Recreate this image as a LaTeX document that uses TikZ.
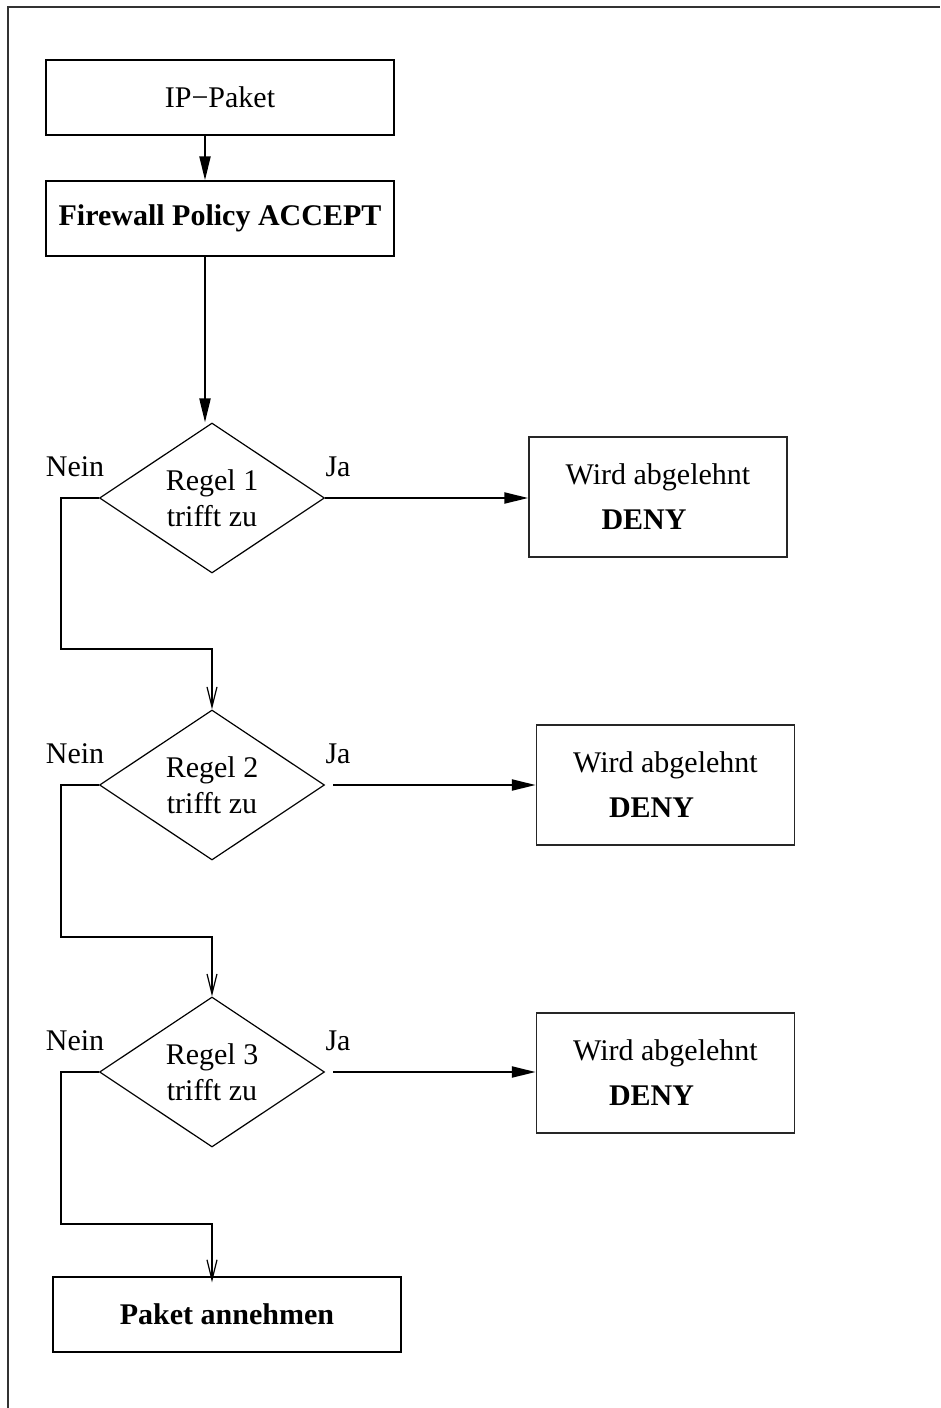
\documentclass[tikz,border=0pt]{standalone}
\usepackage{fontspec}
\setmainfont{Liberation Serif}
\usetikzlibrary{shapes.geometric,arrows.meta,calc}

\begin{document}
\begin{tikzpicture}[x=1pt,y=-1pt,
  every node/.style={font=\fontsize{30}{36}\selectfont},
  box/.style={draw, line width=1.5pt, inner sep=0pt, align=center,
              minimum width=348pt, minimum height=75pt},
  denybox/.style={draw, draw=black!85, line width=1.5pt, inner sep=0pt, align=center,
              minimum width=258pt, minimum height=120pt,
              font=\fontsize{30}{45}\selectfont},
  decision/.style={draw, diamond, line width=1.2pt, minimum width=225pt,
              minimum height=150pt, inner sep=0pt, align=center},
  flow/.style={line width=2.2pt, -{Triangle[length=24pt,width=11pt]}},
  branch/.style={line width=2.2pt, -{Straight Barb[length=20pt,width=10pt,line width=1.2pt]}},
  lbl/.style={inner sep=0pt, anchor=base}
]
\useasboundingbox (0,0) rectangle (940,1408);

% page frame (top and left edge)
\draw[line width=2pt, draw=black!80] (8,1408) -- (8,7) -- (940,7);

% axis of the entry arrows
\coordinate (spine) at (205,0);

% boxes
\node[box] (ip) at (220,97.5) {IP−Paket};
\node[box] (fw) at (220,218.5) {\textbf{Firewall Policy ACCEPT}};

% rule checks
\node[decision] (d1) at (212,498) {Regel 1\\trifft zu};
\node[decision] (d2) at (212,785) {Regel 2\\trifft zu};
\node[decision] (d3) at (212,1072) {Regel 3\\trifft zu};

% outcomes
\node[denybox] (deny1) at (658,497) {Wird abgelehnt\\\textbf{DENY}\hspace*{28pt}};
\node[denybox] (deny2) at (665.5,785) {Wird abgelehnt\\\textbf{DENY}\hspace*{28pt}};
\node[denybox] (deny3) at (665.5,1073) {Wird abgelehnt\\\textbf{DENY}\hspace*{28pt}};
\node[box] (accept) at (227,1314.5) {\textbf{Paket annehmen}};

% branch labels
\node[lbl] (n1) at (75,476) {Nein};
\node[lbl] (j1) at (338,476) {Ja};
\node[lbl] (n2) at (75,763) {Nein};
\node[lbl] (j2) at (338,763) {Ja};
\node[lbl] (n3) at (75,1050) {Nein};
\node[lbl] (j3) at (338,1050) {Ja};

% main flow
\draw[flow] (ip.south -| spine) -- (fw.north -| spine);
\draw[flow] (fw.south -| spine) -- (d1.north -| spine);

% "Ja" branches
\draw[flow] (d1.east) -- (d1.east -| deny1.west);
\draw[flow] ([xshift=8pt]d2.east) -- (d2.east -| deny2.west);
\draw[flow] ([xshift=8pt]d3.east) -- (d3.east -| deny3.west);

% "Nein" branches
\draw[branch] (d1.west) -- ++(-38,0) -- ++(0,151) -| (d2.north);
\draw[branch] (d2.west) -- ++(-38,0) -- ++(0,152) -| (d3.north);
\draw[branch] (d3.west) -- ++(-38,0) -- ++(0,152) -| ($(d3.south |- accept.north)+(0,6)$);
\end{tikzpicture}
\end{document}
